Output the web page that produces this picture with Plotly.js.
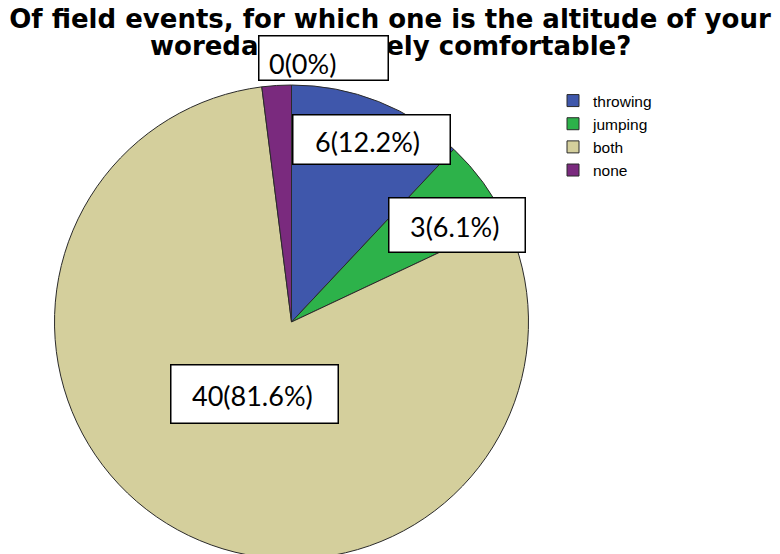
<!DOCTYPE html>
<html><head><meta charset="utf-8">
<script src="https://cdn.plot.ly/plotly-3.0.1.min.js"></script>
<style>html,body{margin:0;padding:0;overflow:hidden;background:#fff}</style>
</head><body><div id="chart" style="width:780px;height:554px;overflow:hidden"></div>
<script>
// ---- data ----
const categories = ['throwing', 'jumping', 'both', 'none'];
const counts = [6, 3, 40, 0];
const percentLabels = ['12.2%', '6.1%', '81.6%', '0%'];
const sliceSizes = [6, 3, 40, 1];   // slice areas as drawn (the "none" wedge is visible)
const sliceColors = ['#3F57AB', '#2DB24A', '#D4CF9C', '#7A2A7E'];
const titleLines = ['Of field events, for which one is the altitude of your',
                    "woreda's relatively comfortable?"];

// ---- layout frame: the pie runs past the bottom edge, so the plot is a little taller than the window ----
const W = 780, H = 570;
const boxes = [ // [left, right, top, bottom, textLeft, textMidY] for throwing, jumping, both, none
  [292, 450, 114, 164, 313, 141],
  [388, 525, 197, 252, 408, 226],
  [170, 338, 364, 423, 190, 395],
  [258, 388, 35, 80, 267, 63]
];

const annotations = [];
annotations.push({
  xref: 'paper', yref: 'paper', x: 0.5, y: 1 - 46 / H, xanchor: 'center', yanchor: 'middle',
  showarrow: false, text: titleLines[1],
  font: {family: 'DejaVu Sans, sans-serif', size: 26, color: '#000', weight: 'bold'}
});
boxes.forEach(function (b) {
  annotations.push({
    xref: 'paper', yref: 'paper', x: b[0] / W, y: 1 - b[2] / H,
    xanchor: 'left', yanchor: 'top', showarrow: false, text: ' ',
    width: b[1] - b[0] - 2, height: b[3] - b[2] - 2, borderpad: 0,
    bgcolor: '#ffffff', bordercolor: '#000000', borderwidth: 1.5
  });
});
boxes.forEach(function (b, i) {
  annotations.push({
    xref: 'paper', yref: 'paper', x: b[4] / W, y: 1 - b[5] / H,
    xanchor: 'left', yanchor: 'middle', showarrow: false,
    text: counts[i] + '(' + percentLabels[i] + ')',
    font: {family: 'Lato, Carlito, sans-serif', size: 27, color: '#000'}
  });
});

const cx = 291.5, cy = 322, r = 237;
const trace = {
  type: 'pie',
  labels: categories,
  values: sliceSizes,
  sort: false,
  direction: 'clockwise',
  rotation: 0,
  textinfo: 'none',
  hoverinfo: 'label+value',
  marker: {colors: sliceColors, line: {color: '#2a2a2a', width: 1}},
  domain: {x: [(cx - r) / W, (cx + r) / W], y: [1 - (cy + r) / H, 1 - (cy - r) / H]}
};

const layout = {
  width: W, height: H,
  autosize: false,
  margin: {l: 0, r: 0, t: 0, b: 0},
  paper_bgcolor: '#ffffff',
  title: {
    text: titleLines[0],
    font: {family: 'DejaVu Sans, sans-serif', size: 26, color: '#000', weight: 'bold'},
    x: 0.5, xanchor: 'center', yref: 'container', y: 1 - 19 / H, yanchor: 'middle'
  },
  showlegend: true,
  legend: {
    x: 553 / W, y: 1 - 84 / H, xanchor: 'left', yanchor: 'top',
    font: {family: 'Liberation Sans, Arial, sans-serif', size: 15.5, color: '#000'},
    bgcolor: 'rgba(0,0,0,0)', traceorder: 'normal'
  },
  annotations: annotations
};

Plotly.newPlot('chart', [trace], layout, {displayModeBar: false, staticPlot: true});
</script></body></html>
